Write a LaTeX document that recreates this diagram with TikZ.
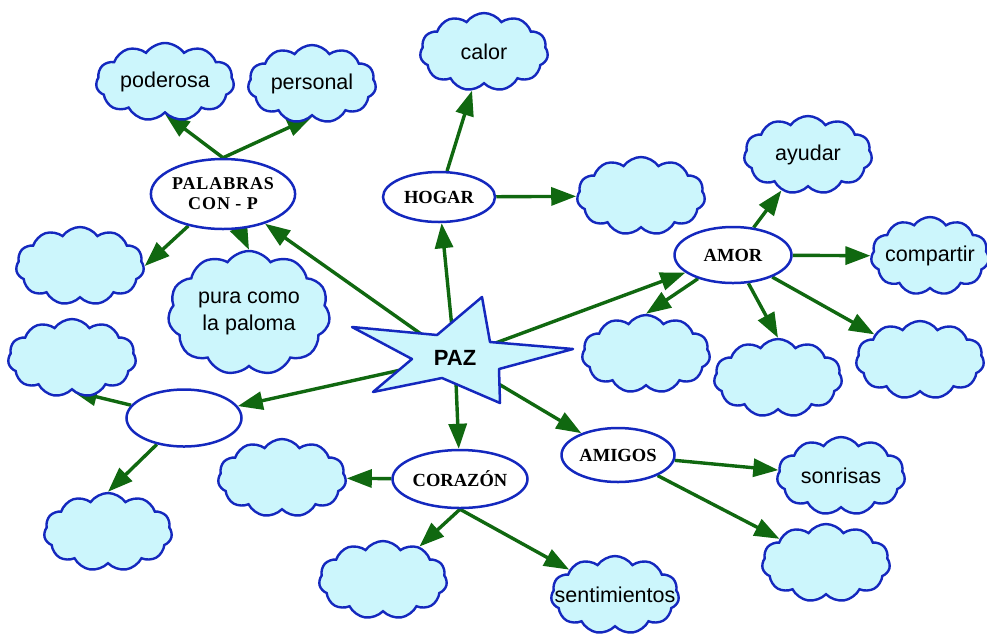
\documentclass[tikz,border=0pt]{standalone}
\usepackage{fontspec}
\setmainfont{Liberation Serif}
\newfontfamily\arialf{Liberation Sans}
\newfontfamily\spacedserif[LetterSpace=5]{Liberation Serif}
\usetikzlibrary{shapes.symbols,shapes.geometric,arrows.meta,backgrounds}
\definecolor{cloudfill}{RGB}{204,246,252}
\definecolor{cblue}{RGB}{20,40,190}
\definecolor{dgreen}{RGB}{16,104,16}
\begin{document}
\begin{tikzpicture}[x=1pt,y=-1pt,
  cloudbox/.style={cloud, cloud puffs=11, cloud puff arc=110, cloud ignores aspect,
    draw=cblue, line width=2.4pt, fill=cloudfill, minimum width=128pt, minimum height=78pt, inner sep=0pt},
  cloudtext/.style={font=\arialf\fontsize{21.5}{27}\selectfont, text=black, align=center, inner sep=0pt},
  concept/.style={ellipse, draw=cblue, line width=2.5pt, fill=white, inner sep=0pt,
    font=\bfseries\fontsize{18.5}{20}\selectfont, align=center},
  link/.style={draw=dgreen, line width=3.4pt, -{Triangle[length=25pt,width=18pt]}}]
\useasboundingbox (0,0) rectangle (987,633);
% star
\draw[draw=cblue, line width=2.5pt, fill=cloudfill, line join=round]
  (352,327) -- (437,335) -- (482,297) -- (490,342) -- (573,349) -- (499,369)
  -- (500,403) -- (442,378) -- (373,392) -- (412,359) -- cycle;
\node[font=\arialf\bfseries\fontsize{22}{24}\selectfont] (paz) at (455,358) {PAZ};
% concepts
\node[concept, minimum width=122pt, minimum height=70pt,
  font=\spacedserif\bfseries\fontsize{18}{20}\selectfont] (pal) at (223,194) {PALABRAS\\CON - P};
\node[concept, minimum width=112pt, minimum height=50pt] (hog) at (439,197) {HOGAR};
\node[concept, minimum width=117pt, minimum height=56pt] (amor) at (733,255) {AMOR};
\node[concept, minimum width=113pt, minimum height=54pt] (amig) at (618,455) {AMIGOS};
\node[concept, minimum width=135pt, minimum height=58pt] (cora) at (460,479) {CORAZÓN};
\node[concept, minimum width=115pt, minimum height=57pt] (emp) at (184,418) {};
% clouds
\node[cloudbox, minimum width=138pt, label={[cloudtext]center:poderosa}] (pod) at (165,82) {};
\node[cloudbox, label={[cloudtext]center:personal}] (pers) at (312,84) {};
\node[cloudbox, label={[cloudtext]center:calor}] (cal) at (484,52) {};
\node[cloudbox] (hogc) at (641,196) {};
\node[cloudbox, label={[cloudtext]center:ayudar}] (ayu) at (808,155) {};
\node[cloudbox, minimum width=118pt, label={[cloudtext]center:compartir}] (comp) at (930,256) {};
\node[cloudbox] (ca1) at (646,354) {};
\node[cloudbox] (ca2) at (778,378) {};
\node[cloudbox] (ca3) at (920,360) {};
\node[cloudbox, label={[cloudtext]center:sonrisas}] (son) at (841,476) {};
\node[cloudbox] (ami2) at (826,563) {};
\node[cloudbox] (cor1) at (282,478) {};
\node[cloudbox] (cor2) at (383,580) {};
\node[cloudbox, label={[cloudtext]center:sentimientos}] (sent) at (615,595) {};
\node[cloudbox] (e1) at (72,358) {};
\node[cloudbox] (e2) at (108,532) {};
\node[cloudbox] (p1) at (80,266) {};
\node[cloudbox, minimum width=162pt, minimum height=124pt,
  label={[cloudtext]center:pura como\\la paloma}] (pura) at (249,313) {};
% links
\begin{scope}[on background layer]
\draw[link] (paz) -- (pal);
\draw[link] (paz) -- (hog);
\draw[link] (paz) -- (amor);
\draw[link] (paz) -- (amig);
\draw[link] (paz) -- (cora);
\draw[link] (paz) -- (emp);
\draw[link] (pal.north) -- (pod.south);
\draw[link] (pal.north) -- (pers.south);
\draw[link] (pal) -- (p1.east);
\draw[link] (pal) -- (pura.north);
\draw[link] (hog) -- (cal);
\draw[link] (hog) -- (hogc);
\draw[link] (amor) -- (ayu);
\draw[link] (amor) -- (comp);
\draw[link] (amor) -- (ca1.north);
\draw[link] (amor) -- (ca2.north);
\draw[link] (amor) -- (ca3);
\draw[link] (amig) -- (son);
\draw[link] (amig) -- (ami2);
\draw[link] (cora) -- (cor1);
\draw[link] (cora.south) -- (cor2);
\draw[link] (cora.south) -- (sent);
\draw[link] (emp) -- (e1.south);
\draw[link] (emp) -- (e2.north);
\end{scope}
\end{tikzpicture}
\end{document}
